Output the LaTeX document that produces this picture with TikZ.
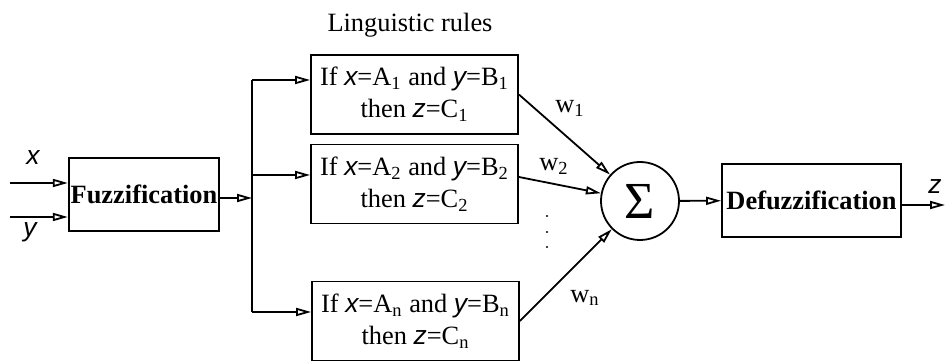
\documentclass[tikz,border=0pt]{standalone}
\usepackage{fontspec}
\setmainfont{Liberation Serif}
\newfontfamily\varfont{Liberation Sans}
\usetikzlibrary{arrows.meta}
\newcommand{\vname}[1]{{\varfont\itshape #1}}

\begin{document}
\begin{tikzpicture}[x=0.5pt,y=-0.5pt,line width=0.9pt,
    font=\fontsize{13.2}{16}\selectfont,
    block/.style={draw,inner sep=1pt,align=center},
    rulebox/.style={block,minimum width=103.5pt,minimum height=39.5pt},
    arr/.style={-{Triangle[open,length=7.5pt,width=4pt]}}]
    \useasboundingbox (0,0) rectangle (947,362);
    % blocks
    \node[block,minimum width=75pt,minimum height=36.5pt] (fuzz) at (144,194.5) {\textbf{Fuzzification}};
    \node[rulebox] (rule1) at (414.5,94.5) {If \vname{x}=A\textsubscript{1} and \vname{y}=B\textsubscript{1}\\ then \vname{z}=C\textsubscript{1}};
    \node[rulebox] (rule2) at (414.5,184) {If \vname{x}=A\textsubscript{2} and \vname{y}=B\textsubscript{2}\\ then \vname{z}=C\textsubscript{2}};
    \node[rulebox] (rulen) at (415.5,321) {If \vname{x}=A\textsubscript{n} and \vname{y}=B\textsubscript{n}\\ then \vname{z}=C\textsubscript{n}};
    \node[draw,circle,minimum size=39pt,inner sep=0pt] (sum) at (640,201) {\fontsize{26}{26}\selectfont Σ};
    \node[block,minimum width=89.5pt,minimum height=36.5pt] (defuzz) at (811.5,200.5) {\textbf{Defuzzification}};
    % labels
    \node (title) at (410,25) {Linguistic rules};
    \node (xlab) at (33,158) {\vname{x}};
    \node (ylab) at (30,232) {\vname{y}};
    \node (zlab) at (935,187) {\vname{z}};
    \node (w1) at (570,108) {w\textsubscript{1}};
    \node (w2) at (554,166) {w\textsubscript{2}};
    \node (wn) at (585,298) {w\textsubscript{n}};
    \foreach \yy in {216,232,247} \fill (547,\yy) circle (0.6pt);
    % connectors
    \coordinate (xin) at (10,183);
    \coordinate (yin) at (10,217);
    \coordinate (bus) at (252,198);
    \coordinate (btop) at (252,80);
    \coordinate (bmid) at (252,175);
    \coordinate (bbot) at (252,312);
    \coordinate (zout) at (945,205);
    \draw[arr] (xin) -- (xin -| fuzz.west);
    \draw[arr] (yin) -- (yin -| fuzz.west);
    \draw[arr] (fuzz.east |- bus) -- (bus);
    \draw (btop) -- (bbot);
    \draw[arr] (btop) -- (btop -| rule1.west);
    \draw[arr] (bmid) -- (bmid -| rule2.west);
    \draw[arr] (bbot) -- (bbot -| rulen.west);
    \draw[arr] (rule1.east) -- (sum);
    \draw[arr] ([yshift=3.5pt]rule2.east) -- (sum);
    \draw[arr] (rulen.east) -- (sum);
    \draw[arr] (sum) -- (defuzz);
    \draw[arr] (defuzz.east |- zout) -- (zout);
\end{tikzpicture}
\end{document}
